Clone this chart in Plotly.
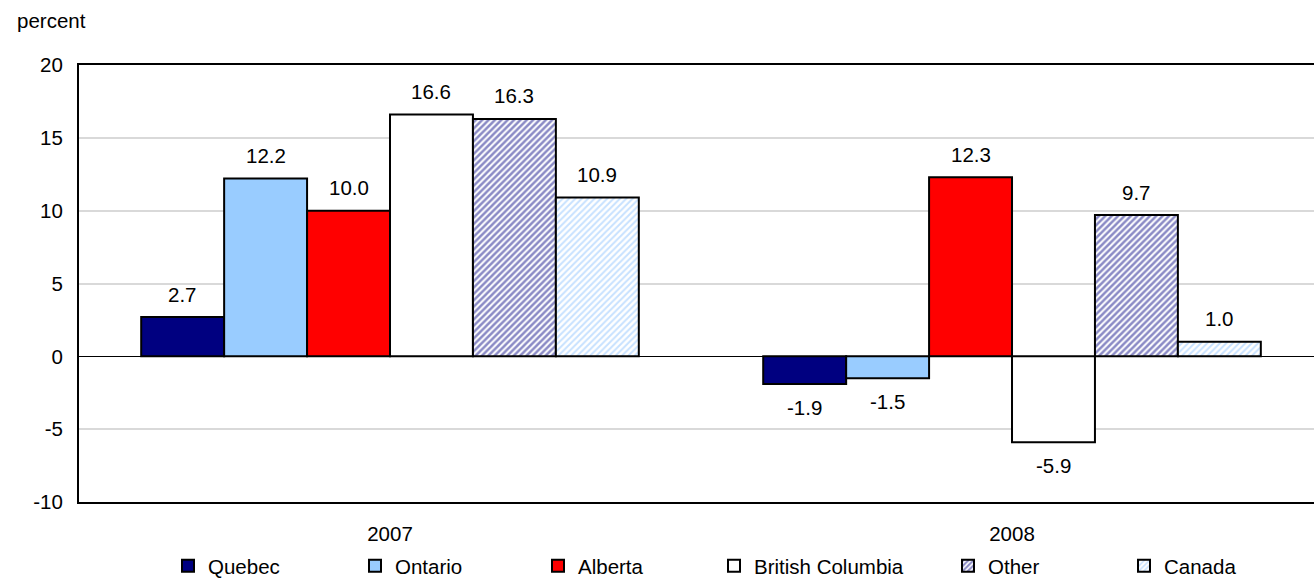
import plotly.graph_objects as go

# Year-over-year change by region, percent
years = ["2007", "2008"]
regions = ["Quebec", "Ontario", "Alberta", "British Columbia", "Other", "Canada"]
quebec = [2.7, -1.9]
ontario = [12.2, -1.5]
alberta = [10.0, 12.3]
british_columbia = [16.6, -5.9]
other = [16.3, 9.7]
canada = [10.9, 1.0]
series = [quebec, ontario, alberta, british_columbia, other, canada]

y_ticks = [-10, -5, 0, 5, 10, 15, 20]

FONT = "Liberation Sans, Arial, Helvetica, sans-serif"
FS = 20.5

styles = [
    dict(color="#000080"),
    dict(color="#99CCFF"),
    dict(color="#FF0000"),
    dict(color="#FFFFFF"),
    dict(color="#FFFFFF", pattern=dict(shape="/", fgcolor="#16168C", bgcolor="#FFFFFF",
                                       size=4.5, solidity=0.55, fillmode="overlay")),
    dict(color="#FFFFFF", pattern=dict(shape="/", fgcolor="#8FC4FF", bgcolor="#FFFFFF",
                                       size=4.5, solidity=0.45, fillmode="overlay")),
]

# left edge (px) of each legend entry's text
legend_text_px = [204, 391, 574, 750, 984, 1160]
PLOT_L, PLOT_R, PLOT_T, PLOT_B = 79, 1314, 65, 502
W, H = 1314, 582

fig = go.Figure()
for i, (name, vals, st) in enumerate(zip(regions, series, styles)):
    marker = dict(color=st["color"], line=dict(color="black", width=2))
    if "pattern" in st:
        marker["pattern"] = st["pattern"]
    fig.add_trace(go.Bar(
        x=years, y=vals, name=name, marker=marker, showlegend=True,
        legend="legend" if i == 0 else f"legend{i + 1}",
        hoverinfo="skip",
    ))

layout_legends = {}
for i, tx in enumerate(legend_text_px):
    key = "legend" if i == 0 else f"legend{i + 1}"
    layout_legends[key] = dict(
        x=(tx - 40 + 4) / W, xref="container", xanchor="left",
        y=1 - 566 / H, yref="container", yanchor="middle",
        orientation="h", font=dict(family=FONT, size=FS, color="black"),
        bgcolor="rgba(0,0,0,0)", borderwidth=0, itemclick=False, itemdoubleclick=False,
    )

# value labels above/below each bar
n = len(series)
group_w = 0.8
bar_w = group_w / n
annotations = []
for i, vals in enumerate(series):
    for j, v in enumerate(vals):
        annotations.append(dict(
            x=j + (i - (n - 1) / 2) * bar_w, y=v, xref="x", yref="y",
            text=f"{v:.1f}", showarrow=False,
            yshift=23 if v >= 0 else -23, yanchor="middle",
            font=dict(family=FONT, size=FS, color="black"),
        ))

annotations.append(dict(
    x=(15 - PLOT_L) / (PLOT_R - PLOT_L), y=(PLOT_B - 20) / (PLOT_B - PLOT_T),
    xref="paper", yref="paper", xanchor="left", yanchor="middle",
    text="percent", showarrow=False, font=dict(family=FONT, size=FS, color="black"),
))

fig.update_layout(
    width=W, height=H, showlegend=True,
    margin=dict(l=PLOT_L, r=W - PLOT_R, t=PLOT_T, b=H - PLOT_B, autoexpand=False),
    paper_bgcolor="white", plot_bgcolor="white",
    barmode="group", bargap=0.2, bargroupgap=0,
    font=dict(family=FONT, size=FS, color="black"),
    annotations=annotations,
    xaxis=dict(
        type="category", range=[-0.5, 1.4855], showgrid=False,
        showline=True, mirror=True, linecolor="black", linewidth=2,
        ticks="", ticklabelstandoff=12, tickfont=dict(family=FONT, size=FS, color="black"),
        fixedrange=True, automargin=False,
    ),
    yaxis=dict(
        range=[-10, 20], tickvals=y_ticks, ticktext=[str(t) for t in y_ticks],
        showgrid=True, gridcolor="#D9D9D9", gridwidth=2,
        zeroline=True, zerolinecolor="black", zerolinewidth=1,
        showline=True, linecolor="black", linewidth=2,
        ticks="", ticklabelstandoff=10, tickfont=dict(family=FONT, size=FS, color="black"),
        fixedrange=True, automargin=False,
    ),
    **layout_legends,
)

fig.write_html("out.html", config={"displayModeBar": False})
